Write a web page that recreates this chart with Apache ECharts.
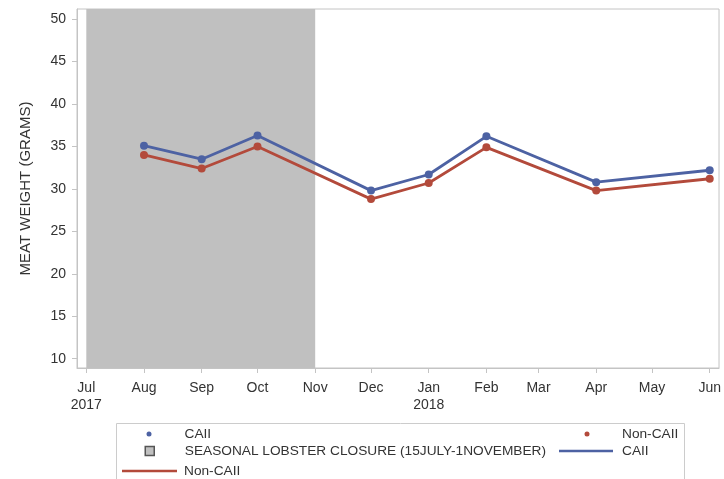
<!DOCTYPE html>
<html>
<head>
<meta charset="utf-8">
<script src="https://cdn.jsdelivr.net/npm/echarts@6/dist/echarts.min.js"></script>
<style>
  html, body { margin: 0; padding: 0; background: #fff; }
  #chart { width: 724px; height: 479px; }
</style>
</head>
<body>
<div id="chart"></div>
<script>
// Sampling months (year, month index) for meat weight measurements
const sampleMonths = [[2017, 7], [2017, 8], [2017, 9], [2017, 11], [2018, 0], [2018, 1], [2018, 3], [2018, 5]];
// Mean meat weight (grams)
const caiiWeights = [35.1, 33.5, 36.3, 29.8, 31.7, 36.2, 30.8, 32.2];
const nonCaiiWeights = [34.0, 32.4, 35.0, 28.8, 30.7, 34.9, 29.8, 31.2];

// Axis ticks
const monthTicks = [[2017, 6], [2017, 7], [2017, 8], [2017, 9], [2017, 10], [2017, 11],
                    [2018, 0], [2018, 1], [2018, 2], [2018, 3], [2018, 4], [2018, 5]];
const monthLabels = ['Jul\n2017', 'Aug', 'Sep', 'Oct', 'Nov', 'Dec',
                     'Jan\n2018', 'Feb', 'Mar', 'Apr', 'May', 'Jun'];
const weightTicks = [10, 15, 20, 25, 30, 35, 40, 45, 50];

// Seasonal closure period shown as a shaded band
const closureStart = [2017, 6];
const closureEnd = [2017, 10];

// Dates are placed on a numeric axis as millisecond timestamps
const ts = (ym) => Date.UTC(ym[0], ym[1], 1);
const tickValues = monthTicks.map(ts);

const caiiData = sampleMonths.map((m, i) => [ts(m), caiiWeights[i]]);
const nonCaiiData = sampleMonths.map((m, i) => [ts(m), nonCaiiWeights[i]]);

const BLUE = '#4d62a3';
const RED = '#b34a3b';
const AXIS = '#c4c4c4';
const TEXT = '#333333';
const FONT = '"Liberation Sans", Arial, sans-serif';
const CLOSURE = 'SEASONAL LOBSTER CLOSURE (15JULY-1NOVEMBER)';

const legendBase = {
  orient: 'horizontal',
  padding: 0,
  selectedMode: false,
  textStyle: { color: TEXT, fontFamily: FONT, fontSize: 13.7, lineHeight: 16 }
};

const chart = echarts.init(document.getElementById('chart'), null, { renderer: 'canvas' });
chart.setOption({
  animation: false,
  backgroundColor: '#ffffff',
  textStyle: { fontFamily: FONT },
  grid: {
    left: 77, right: 3, top: 9, bottom: 111,
    show: true, borderColor: AXIS, borderWidth: 1
  },
  xAxis: {
    type: 'value',
    min: Date.UTC(2017, 5, 26),
    max: Date.UTC(2018, 5, 6),
    axisLine: { lineStyle: { color: AXIS } },
    axisTick: { show: true, length: 5, lineStyle: { color: AXIS }, customValues: tickValues },
    splitLine: { show: false },
    axisLabel: {
      customValues: tickValues,
      hideOverlap: false,
      color: TEXT, fontSize: 14, lineHeight: 17, margin: 12,
      formatter: (v) => {
        const i = tickValues.indexOf(v);
        return i >= 0 ? monthLabels[i] : '';
      }
    }
  },
  yAxis: {
    type: 'value',
    min: 8.9,
    max: 51.2,
    name: 'MEAT WEIGHT (GRAMS)',
    nameLocation: 'middle',
    nameGap: 44,
    nameTextStyle: { color: TEXT, fontSize: 15, fontFamily: FONT },
    axisLine: { show: true, lineStyle: { color: AXIS } },
    axisTick: { show: true, length: 5, lineStyle: { color: AXIS }, customValues: weightTicks },
    splitLine: { show: false },
    axisLabel: { customValues: weightTicks, color: TEXT, fontSize: 14, margin: 11 }
  },
  legend: [
    Object.assign({}, legendBase, {
      left: 146.5, top: 426, itemWidth: 5, itemHeight: 5,
      data: [{ name: 'CAII', icon: 'circle', textStyle: { padding: [0, 0, 0, 28] } }]
    }),
    Object.assign({}, legendBase, {
      left: 584.5, top: 426, itemWidth: 5, itemHeight: 5,
      data: [{ name: 'Non-CAII', icon: 'circle', textStyle: { padding: [0, 0, 0, 27.5] } }]
    }),
    Object.assign({}, legendBase, {
      left: 144.5, top: 443, itemWidth: 9, itemHeight: 9,
      data: [{ name: CLOSURE, icon: 'rect',
               itemStyle: { color: '#c0c0c0', borderColor: '#555555', borderWidth: 1.5 },
               textStyle: { padding: [0, 0, 0, 25.5] } }]
    }),
    Object.assign({}, legendBase, {
      left: 559, top: 443, itemWidth: 54, itemHeight: 2.5,
      data: [{ name: 'CAII', icon: 'rect', textStyle: { padding: [0, 0, 0, 4] } }]
    }),
    Object.assign({}, legendBase, {
      left: 122, top: 463, itemWidth: 55, itemHeight: 2.5,
      data: [{ name: 'Non-CAII', icon: 'rect', textStyle: { padding: [0, 0, 0, 2] } }]
    })
  ],
  graphic: [{
    type: 'rect',
    silent: true,
    shape: { x: 116.5, y: 423.5, width: 568, height: 80 },
    style: { fill: 'none', stroke: '#cccccc', lineWidth: 1 }
  }],
  series: [
    {
      name: CLOSURE,
      type: 'line',
      data: [],
      z: 1,
      itemStyle: { color: '#c0c0c0' },
      markArea: {
        silent: true,
        itemStyle: { color: '#c0c0c0' },
        data: [[{ xAxis: ts(closureStart) }, { xAxis: ts(closureEnd) }]]
      }
    },
    {
      name: 'Non-CAII',
      type: 'line',
      data: nonCaiiData,
      z: 3,
      symbol: 'circle',
      symbolSize: 8,
      showAllSymbol: true,
      itemStyle: { color: RED },
      lineStyle: { color: RED, width: 2.8 }
    },
    {
      name: 'CAII',
      type: 'line',
      data: caiiData,
      z: 4,
      symbol: 'circle',
      symbolSize: 8,
      showAllSymbol: true,
      itemStyle: { color: BLUE },
      lineStyle: { color: BLUE, width: 2.8 }
    }
  ]
});
</script>
</body>
</html>
